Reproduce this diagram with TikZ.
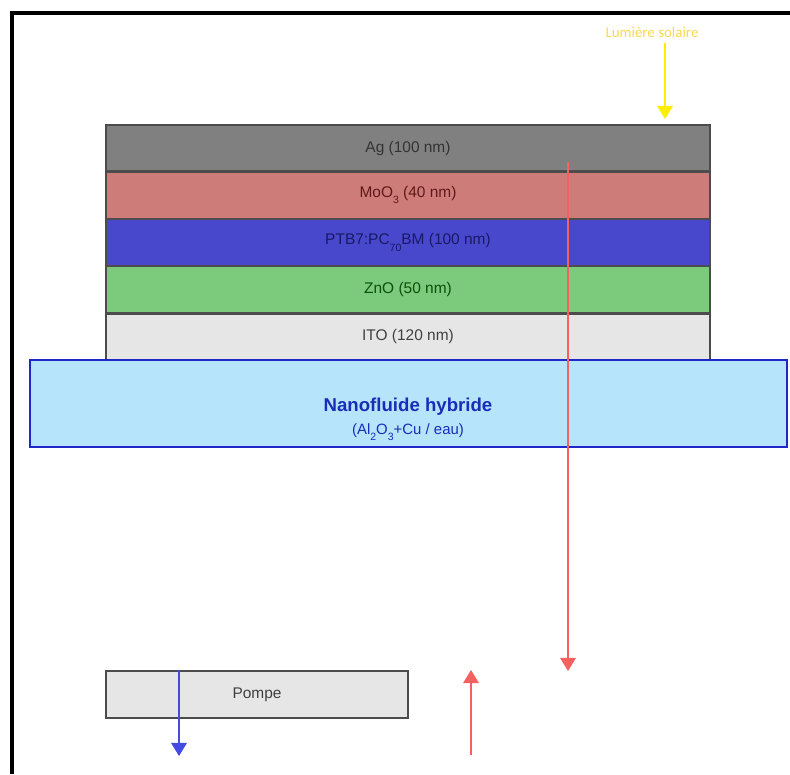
\documentclass[tikz,border=0pt]{standalone}
\usepackage{fontspec}
\setmainfont{Liberation Sans}
\newfontfamily\solfont{Carlito}
\usetikzlibrary{positioning,arrows.meta}
\newcommand\indice[1]{\raisebox{-0.75ex}{\fontsize{6}{6}\selectfont #1}}
\definecolor{agcol}{RGB}{128,128,128}
\definecolor{moocol}{RGB}{206,124,122}
\definecolor{mootxt}{RGB}{95,25,25}
\definecolor{ptbcol}{RGB}{72,72,204}
\definecolor{ptbtxt}{RGB}{25,25,100}
\definecolor{znocol}{RGB}{124,202,124}
\definecolor{znotxt}{RGB}{10,80,10}
\definecolor{itocol}{RGB}{230,230,230}
\definecolor{nanocol}{RGB}{182,228,250}
\definecolor{nanoedge}{RGB}{30,40,200}
\definecolor{nanotxt}{RGB}{25,45,185}
\definecolor{solcol}{RGB}{250,215,80}
\definecolor{suncol}{RGB}{255,238,0}
\definecolor{rayon}{RGB}{240,30,30}
\definecolor{froid}{RGB}{20,30,220}
\begin{document}
\begin{tikzpicture}[x=0.02cm,y=-0.02cm,
  layer/.style={draw=black!70, line width=0.7pt, minimum width=12.08cm,
    minimum height=0.92cm, inner sep=0pt, font=\fontsize{8.8}{10}\selectfont},
  fleche/.style={line width=0.8pt, -{Triangle[width=9pt,length=7.5pt]}}]
\useasboundingbox (0,0) rectangle (790,774);

% cadre
\draw[line width=2.8pt] (12,774) -- (12,13) -- (790,13);

% empilement de la cellule
\node[layer, fill=agcol, text=black!80] (ag) at (408,148) {Ag (100 nm)};
\node[layer, fill=moocol, text=mootxt, below=0pt of ag] (moo) {MoO\indice{3} (40 nm)};
\node[layer, fill=ptbcol, text=ptbtxt, below=0pt of moo] (ptb) {PTB7:PC\indice{70}BM (100 nm)};
\node[layer, fill=znocol, text=znotxt, below=0pt of ptb] (zno) {ZnO (50 nm)};
\node[layer, fill=itocol, text=black!75, below=0pt of zno] (ito) {ITO (120 nm)};
\node[layer, fill=itocol, minimum height=0.08cm, below=0pt of ito] (verre) {};

% canal du nanofluide
\node[draw=nanoedge, fill=nanocol, line width=1.2pt, minimum width=15.14cm,
  minimum height=1.74cm, inner sep=0pt] (nano) at (408.5,403.5) {};
\node[text=nanotxt, align=center, font=\fontsize{8.5}{9}\selectfont] (nanolbl) at (408,419)
  {{\fontsize{10.6}{12}\selectfont\bfseries Nanofluide hybride}\\[4pt]
   (Al\indice{2}O\indice{3}+Cu / eau)};

% pompe
\node[layer, fill=itocol, text=black!75, minimum width=6.04cm, minimum height=0.94cm]
  (pompe) at (257,694.5) {Pompe};

% rayonnement solaire
\node[text=solcol, font=\solfont\fontsize{8.5}{10}\selectfont] (sol) at (652,32) {Lumière solaire};
\coordinate (sunend) at (665,119);
\draw[fleche, suncol] (sunend |- sol.south) -- (sunend);

\coordinate (rtop) at (568,162);
\coordinate (rbot) at (568,671);
\draw[fleche, rayon!70, line width=0.6pt] (rtop) -- (rbot);

% circulation du fluide
\coordinate (bdown) at (179,756);
\draw[fleche, froid!80, line width=0.6pt] (pompe.north -| bdown) -- (bdown);
\coordinate (rin) at (471,755);
\coordinate (rup) at (471,670);
\draw[fleche, rayon!70, line width=0.6pt] (rin) -- (rup);
\end{tikzpicture}
\end{document}
